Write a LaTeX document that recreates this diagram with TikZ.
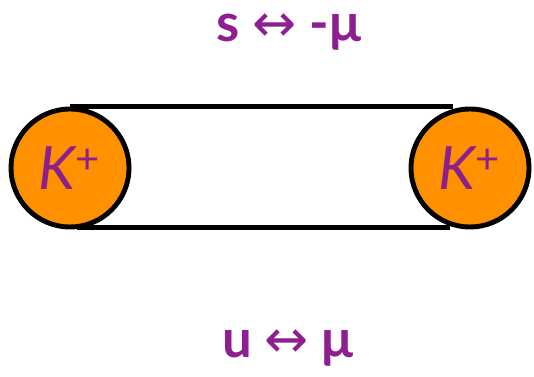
\documentclass[tikz,border=0pt]{standalone}
\usepackage{fontspec}
\setmainfont{Lato}
\newfontfamily\arrowfont{DejaVu Sans}
\usetikzlibrary{positioning, calc}
\definecolor{kaonorange}{HTML}{FF9100}
\definecolor{labelpurple}{HTML}{8E1F90}

\begin{document}
\begin{tikzpicture}[
                x=0.02cm, y=-0.02cm,
                kaon/.style={circle, draw, line width=2.8pt, fill=kaonorange, minimum size=2.36cm, inner sep=0pt, text=labelpurple, font=\fontsize{34}{36}\selectfont\itshape},
                cross/.style={text=labelpurple, font=\fontsize{30}{32}\selectfont\bfseries},
                leg/.style={line width=2.8pt}
            ]
            \useasboundingbox (0,0) rectangle (534,377);
            \node[kaon] (kl) at (70,168) {K\textsuperscript{\upshape +}};
            \node[kaon] (kr) at (470,168) {K\textsuperscript{\upshape +}};
            \draw[leg] (kl.north) -- ($(kr.north)+(-17,0)$);
            \draw[leg] ($(kl.south)+(7,-2)$) -- ($(kr.south)+(-20,-2)$);
            \node[cross] (st) at (289,32) {s {\arrowfont\mdseries ↔} -μ};
            \node[cross] (uc) at (288,348) {u {\arrowfont\mdseries ↔} μ};
        \end{tikzpicture}
\end{document}
